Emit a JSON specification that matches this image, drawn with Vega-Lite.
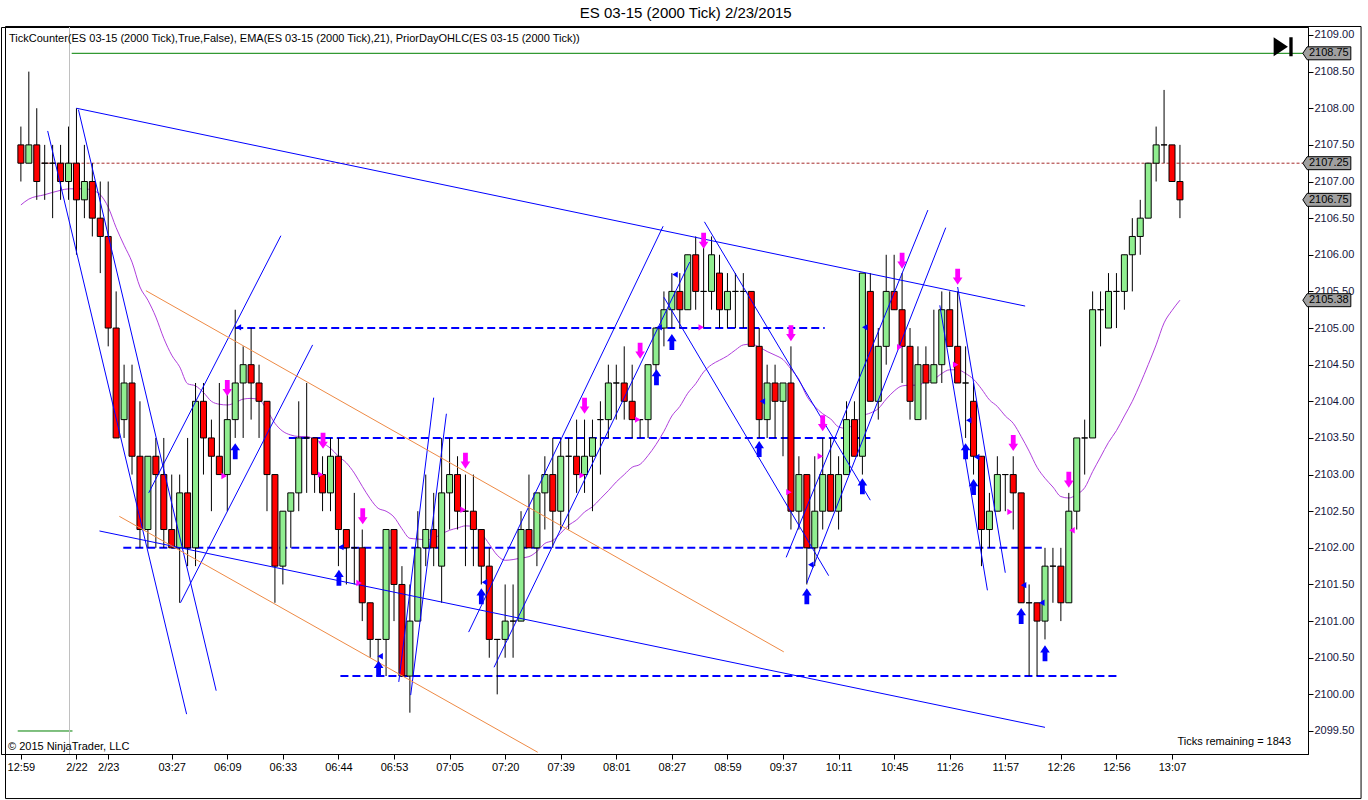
{
  "$schema": "https://vega.github.io/schema/vega-lite/v6.json",
  "autosize": "none",
  "width": 1307,
  "height": 727,
  "padding": {"left": 1, "top": 27, "right": 60, "bottom": 46},
  "background": "white",
  "datasets": {
    "candles": [
      {"i":1,"o":2107.5,"h":2107.75,"l":2107,"c":2107.25},
      {"i":2,"o":2107.25,"h":2108.5,"l":2107.25,"c":2107.5},
      {"i":3,"o":2107.5,"h":2108,"l":2106.75,"c":2107},
      {"i":4,"o":2107.25,"h":2107.5,"l":2106.75,"c":2107.25},
      {"i":5,"o":2107.25,"h":2107.5,"l":2106.5,"c":2107.25},
      {"i":6,"o":2107.25,"h":2107.5,"l":2106.75,"c":2107},
      {"i":7,"o":2107,"h":2107.75,"l":2106.75,"c":2107.25},
      {"i":8,"o":2107.25,"h":2108,"l":2106,"c":2106.75},
      {"i":9,"o":2106.75,"h":2107.5,"l":2106.5,"c":2107},
      {"i":10,"o":2107,"h":2107.25,"l":2106.25,"c":2106.5},
      {"i":11,"o":2106.5,"h":2107,"l":2105.75,"c":2106.25},
      {"i":12,"o":2106.25,"h":2107,"l":2104.75,"c":2105},
      {"i":13,"o":2105,"h":2105.5,"l":2103.5,"c":2103.5},
      {"i":14,"o":2103.75,"h":2104.5,"l":2103.5,"c":2104.25},
      {"i":15,"o":2104.25,"h":2104.5,"l":2103,"c":2103.25},
      {"i":16,"o":2103.25,"h":2104,"l":2102,"c":2102.25},
      {"i":17,"o":2102.25,"h":2103.25,"l":2102,"c":2103.25},
      {"i":18,"o":2103.25,"h":2103.5,"l":2102,"c":2103},
      {"i":19,"o":2103,"h":2103.5,"l":2102,"c":2102.25},
      {"i":20,"o":2102.25,"h":2103,"l":2102,"c":2102},
      {"i":21,"o":2102,"h":2103,"l":2101.25,"c":2102.75},
      {"i":22,"o":2102.75,"h":2103.5,"l":2101.75,"c":2102},
      {"i":23,"o":2102,"h":2104.25,"l":2101.75,"c":2104},
      {"i":24,"o":2104,"h":2104.25,"l":2103,"c":2103.5},
      {"i":25,"o":2103.5,"h":2103.75,"l":2102.5,"c":2103.25},
      {"i":26,"o":2103.25,"h":2104.25,"l":2103,"c":2103},
      {"i":27,"o":2103,"h":2104.25,"l":2102.5,"c":2103.75},
      {"i":28,"o":2103.75,"h":2105.25,"l":2103.5,"c":2104.25},
      {"i":29,"o":2104.25,"h":2104.75,"l":2103.5,"c":2104.5},
      {"i":30,"o":2104.5,"h":2105,"l":2103.75,"c":2104.25},
      {"i":31,"o":2104.25,"h":2104.5,"l":2103.5,"c":2104},
      {"i":32,"o":2104,"h":2104,"l":2102.5,"c":2103},
      {"i":33,"o":2103,"h":2103,"l":2101.25,"c":2101.75},
      {"i":34,"o":2101.75,"h":2102.5,"l":2101.5,"c":2102.5},
      {"i":35,"o":2102.5,"h":2102.75,"l":2102,"c":2102.75},
      {"i":36,"o":2102.75,"h":2104,"l":2102.5,"c":2103.5},
      {"i":37,"o":2103.5,"h":2104.25,"l":2102.75,"c":2103.5},
      {"i":38,"o":2103.5,"h":2103.5,"l":2102.75,"c":2103},
      {"i":39,"o":2103,"h":2103.25,"l":2102.5,"c":2102.75},
      {"i":40,"o":2102.75,"h":2103.5,"l":2102.5,"c":2103.25},
      {"i":41,"o":2103.25,"h":2103.5,"l":2101.75,"c":2102.25},
      {"i":42,"o":2102.25,"h":2102.25,"l":2101.5,"c":2102},
      {"i":43,"o":2102,"h":2102.75,"l":2101.5,"c":2102},
      {"i":44,"o":2102,"h":2102.25,"l":2101,"c":2101.25},
      {"i":45,"o":2101.25,"h":2101.25,"l":2100.5,"c":2100.75},
      {"i":46,"o":2100.75,"h":2100.75,"l":2100.25,"c":2100.75},
      {"i":47,"o":2100.75,"h":2102.25,"l":2100.25,"c":2102.25},
      {"i":48,"o":2102.25,"h":2102.25,"l":2101,"c":2101.5},
      {"i":49,"o":2101.5,"h":2101.75,"l":2100.25,"c":2100.25},
      {"i":50,"o":2100.25,"h":2101.5,"l":2099.75,"c":2101},
      {"i":51,"o":2101,"h":2102.5,"l":2101,"c":2102},
      {"i":52,"o":2102,"h":2103,"l":2101.75,"c":2102.25},
      {"i":53,"o":2102.25,"h":2102.75,"l":2101.75,"c":2102},
      {"i":54,"o":2101.75,"h":2103.5,"l":2101.25,"c":2102.75},
      {"i":55,"o":2102.75,"h":2103.5,"l":2102.25,"c":2103},
      {"i":56,"o":2103,"h":2103.25,"l":2102.25,"c":2102.5},
      {"i":57,"o":2102.5,"h":2103,"l":2101.75,"c":2102.5},
      {"i":58,"o":2102.5,"h":2103,"l":2101.75,"c":2102.25},
      {"i":59,"o":2102.25,"h":2102.25,"l":2101.5,"c":2101.75},
      {"i":60,"o":2101.75,"h":2102,"l":2100.5,"c":2100.75},
      {"i":61,"o":2100.75,"h":2100.75,"l":2100,"c":2100.75},
      {"i":62,"o":2100.75,"h":2101.5,"l":2100.5,"c":2101},
      {"i":63,"o":2101,"h":2101.5,"l":2100.5,"c":2101},
      {"i":64,"o":2101,"h":2102.5,"l":2101,"c":2102.25},
      {"i":65,"o":2102.25,"h":2103,"l":2102,"c":2102},
      {"i":66,"o":2102,"h":2102.75,"l":2101.75,"c":2102.75},
      {"i":67,"o":2102.75,"h":2103.25,"l":2102.25,"c":2103},
      {"i":68,"o":2103,"h":2103.5,"l":2102,"c":2102.5},
      {"i":69,"o":2102.5,"h":2103.5,"l":2102.25,"c":2103.25},
      {"i":70,"o":2103.25,"h":2103.5,"l":2102.25,"c":2103.25},
      {"i":71,"o":2103.25,"h":2103.75,"l":2102.75,"c":2103},
      {"i":72,"o":2103,"h":2103.75,"l":2102.75,"c":2103.25},
      {"i":73,"o":2103.25,"h":2103.75,"l":2102.5,"c":2103.5},
      {"i":74,"o":2103.75,"h":2104,"l":2103,"c":2103.75},
      {"i":75,"o":2103.75,"h":2104.5,"l":2103.5,"c":2104.25},
      {"i":76,"o":2104.25,"h":2104.5,"l":2103.75,"c":2104.25},
      {"i":77,"o":2104.25,"h":2104.75,"l":2103.75,"c":2104},
      {"i":78,"o":2104,"h":2104.5,"l":2103.5,"c":2103.75},
      {"i":79,"o":2103.75,"h":2103.75,"l":2103.5,"c":2103.75},
      {"i":80,"o":2103.75,"h":2104.5,"l":2103.5,"c":2104.5},
      {"i":81,"o":2104.5,"h":2105,"l":2104.25,"c":2105},
      {"i":82,"o":2105,"h":2105.5,"l":2104.75,"c":2105.25},
      {"i":83,"o":2105.25,"h":2105.75,"l":2105,"c":2105.5},
      {"i":84,"o":2105.5,"h":2105.75,"l":2105,"c":2105.25},
      {"i":85,"o":2105.25,"h":2106,"l":2105.25,"c":2106},
      {"i":86,"o":2106,"h":2106.25,"l":2105.25,"c":2105.5},
      {"i":87,"o":2105.5,"h":2106.25,"l":2105,"c":2105.5},
      {"i":88,"o":2105.5,"h":2106.25,"l":2105.25,"c":2106},
      {"i":89,"o":2105.75,"h":2106,"l":2105,"c":2105.25},
      {"i":90,"o":2105.25,"h":2105.75,"l":2105,"c":2105.5},
      {"i":91,"o":2105.5,"h":2105.75,"l":2105,"c":2105.5},
      {"i":92,"o":2105.5,"h":2105.75,"l":2105,"c":2105.5},
      {"i":93,"o":2105.5,"h":2105.5,"l":2104.75,"c":2104.75},
      {"i":94,"o":2104.75,"h":2105,"l":2103.5,"c":2103.75},
      {"i":95,"o":2103.75,"h":2104.5,"l":2103.5,"c":2104.25},
      {"i":96,"o":2104.25,"h":2104.5,"l":2103.5,"c":2104},
      {"i":97,"o":2104,"h":2104.25,"l":2103.25,"c":2104.25},
      {"i":98,"o":2104.25,"h":2104.75,"l":2102.25,"c":2102.5},
      {"i":99,"o":2102.5,"h":2103.25,"l":2102.25,"c":2103},
      {"i":100,"o":2103,"h":2103,"l":2101.5,"c":2102},
      {"i":101,"o":2102,"h":2103.25,"l":2101.75,"c":2102.5},
      {"i":102,"o":2102.5,"h":2103.5,"l":2102.25,"c":2103},
      {"i":103,"o":2103,"h":2103.5,"l":2102.5,"c":2102.5},
      {"i":104,"o":2102.5,"h":2103.25,"l":2102.25,"c":2103},
      {"i":105,"o":2103,"h":2104,"l":2103,"c":2103.75},
      {"i":106,"o":2103.75,"h":2104,"l":2103.25,"c":2103.25},
      {"i":107,"o":2103.25,"h":2105.75,"l":2103,"c":2105.75},
      {"i":108,"o":2105.5,"h":2105.75,"l":2104,"c":2104},
      {"i":109,"o":2104,"h":2105,"l":2103.75,"c":2104.75},
      {"i":110,"o":2104.75,"h":2106,"l":2104.5,"c":2105.5},
      {"i":111,"o":2105.5,"h":2106,"l":2105.25,"c":2105.25},
      {"i":112,"o":2105.25,"h":2105.75,"l":2104.25,"c":2104.75},
      {"i":113,"o":2104.75,"h":2105,"l":2103.75,"c":2104},
      {"i":114,"o":2103.75,"h":2104.75,"l":2103.75,"c":2104.5},
      {"i":115,"o":2104.5,"h":2104.75,"l":2103.75,"c":2104.25},
      {"i":116,"o":2104.25,"h":2105.25,"l":2104.25,"c":2104.5},
      {"i":117,"o":2104.5,"h":2105.5,"l":2104.25,"c":2105.25},
      {"i":118,"o":2105.25,"h":2105.5,"l":2104.75,"c":2104.75},
      {"i":119,"o":2104.75,"h":2105.5,"l":2104.25,"c":2104.25},
      {"i":120,"o":2104.25,"h":2104.75,"l":2103.5,"c":2104.25},
      {"i":121,"o":2104,"h":2104.25,"l":2103,"c":2103.25},
      {"i":122,"o":2103.25,"h":2103.25,"l":2101.75,"c":2102.25},
      {"i":123,"o":2102.25,"h":2102.75,"l":2102,"c":2102.5},
      {"i":124,"o":2102.5,"h":2103.25,"l":2102.5,"c":2103},
      {"i":125,"o":2103,"h":2103,"l":2102.5,"c":2103},
      {"i":126,"o":2103,"h":2103.25,"l":2102.25,"c":2102.75},
      {"i":127,"o":2102.75,"h":2102.75,"l":2101.25,"c":2101.25},
      {"i":128,"o":2101.25,"h":2101.5,"l":2100.25,"c":2101.25},
      {"i":129,"o":2101.25,"h":2101.25,"l":2100.25,"c":2101},
      {"i":130,"o":2101,"h":2102,"l":2100.75,"c":2101.75},
      {"i":131,"o":2101.75,"h":2102,"l":2101.25,"c":2101.75},
      {"i":132,"o":2101.75,"h":2102,"l":2101,"c":2101.25},
      {"i":133,"o":2101.25,"h":2102.75,"l":2101.25,"c":2102.5},
      {"i":134,"o":2102.5,"h":2103.5,"l":2102.25,"c":2103.5},
      {"i":135,"o":2103.5,"h":2103.75,"l":2103,"c":2103.5},
      {"i":136,"o":2103.5,"h":2105.5,"l":2103.5,"c":2105.25},
      {"i":137,"o":2105.25,"h":2105.5,"l":2104.75,"c":2105.25},
      {"i":138,"o":2105,"h":2105.75,"l":2105,"c":2105.5},
      {"i":139,"o":2105.5,"h":2105.75,"l":2105,"c":2105.5},
      {"i":140,"o":2105.5,"h":2106,"l":2105.25,"c":2106},
      {"i":141,"o":2106,"h":2106.5,"l":2105.5,"c":2106.25},
      {"i":142,"o":2106.25,"h":2106.75,"l":2106,"c":2106.5},
      {"i":143,"o":2106.5,"h":2107.25,"l":2106.5,"c":2107.25},
      {"i":144,"o":2107.25,"h":2107.75,"l":2107,"c":2107.5},
      {"i":145,"o":2107.5,"h":2108.25,"l":2107.25,"c":2107.5},
      {"i":146,"o":2107.5,"h":2107.5,"l":2107,"c":2107},
      {"i":147,"o":2107,"h":2107.5,"l":2106.5,"c":2106.75}
    ],
    "ema": [
      {"i":1,"v":2106.68},{"i":2,"v":2106.76},{"i":4,"v":2106.82},{"i":6,"v":2106.88},{"i":7,"v":2106.9},
      {"i":9,"v":2106.9},{"i":10,"v":2106.88},{"i":11,"v":2106.82},{"i":12,"v":2106.65},{"i":13,"v":2106.37},
      {"i":14,"v":2106.13},{"i":15,"v":2105.9},{"i":16,"v":2105.56},{"i":17,"v":2105.38},{"i":18,"v":2105.15},
      {"i":19,"v":2104.86},{"i":20,"v":2104.63},{"i":21,"v":2104.47},{"i":22,"v":2104.24},{"i":23,"v":2104.21},
      {"i":24,"v":2104.12},{"i":25,"v":2104.0},{"i":26,"v":2103.96},{"i":27,"v":2103.95},{"i":28,"v":2103.98},
      {"i":29,"v":2104.03},{"i":30,"v":2104.04},{"i":31,"v":2104.02},{"i":32,"v":2103.88},{"i":33,"v":2103.7},
      {"i":34,"v":2103.59},{"i":35,"v":2103.54},{"i":36,"v":2103.52},{"i":37,"v":2103.52},{"i":38,"v":2103.48},
      {"i":39,"v":2103.43},{"i":40,"v":2103.36},{"i":41,"v":2103.25},{"i":42,"v":2103.16},{"i":43,"v":2103.02},
      {"i":44,"v":2102.84},{"i":45,"v":2102.67},{"i":46,"v":2102.54},{"i":47,"v":2102.5},{"i":48,"v":2102.42},
      {"i":49,"v":2102.26},{"i":50,"v":2102.13},{"i":51,"v":2102.12},{"i":52,"v":2102.11},{"i":53,"v":2102.13},
      {"i":54,"v":2102.19},{"i":55,"v":2102.24},{"i":56,"v":2102.27},{"i":57,"v":2102.3},{"i":58,"v":2102.29},
      {"i":59,"v":2102.2},{"i":60,"v":2102.05},{"i":61,"v":2101.9},{"i":62,"v":2101.83},{"i":63,"v":2101.84},
      {"i":64,"v":2101.86},{"i":65,"v":2101.88},{"i":66,"v":2101.95},{"i":67,"v":2102.06},{"i":68,"v":2102.1},
      {"i":69,"v":2102.2},{"i":70,"v":2102.31},{"i":71,"v":2102.38},{"i":72,"v":2102.49},{"i":73,"v":2102.56},
      {"i":74,"v":2102.67},{"i":75,"v":2102.78},{"i":76,"v":2102.9},{"i":77,"v":2103.0},{"i":78,"v":2103.1},
      {"i":79,"v":2103.14},{"i":80,"v":2103.26},{"i":81,"v":2103.41},{"i":82,"v":2103.59},{"i":83,"v":2103.8},
      {"i":84,"v":2103.93},{"i":85,"v":2104.11},{"i":86,"v":2104.24},{"i":87,"v":2104.4},{"i":88,"v":2104.5},
      {"i":89,"v":2104.56},{"i":90,"v":2104.62},{"i":91,"v":2104.7},{"i":92,"v":2104.77},{"i":93,"v":2104.78},
      {"i":94,"v":2104.74},{"i":95,"v":2104.68},{"i":96,"v":2104.63},{"i":97,"v":2104.57},{"i":98,"v":2104.44},
      {"i":99,"v":2104.3},{"i":100,"v":2104.07},{"i":101,"v":2103.93},{"i":102,"v":2103.83},{"i":103,"v":2103.76},
      {"i":104,"v":2103.65},{"i":105,"v":2103.63},{"i":106,"v":2103.7},{"i":107,"v":2103.8},{"i":108,"v":2103.84},
      {"i":109,"v":2103.9},{"i":110,"v":2104.03},{"i":111,"v":2104.14},{"i":112,"v":2104.21},{"i":113,"v":2104.22},
      {"i":114,"v":2104.22},{"i":115,"v":2104.27},{"i":116,"v":2104.3},{"i":117,"v":2104.38},{"i":118,"v":2104.43},
      {"i":119,"v":2104.43},{"i":120,"v":2104.38},{"i":121,"v":2104.3},{"i":122,"v":2104.17},{"i":123,"v":2104.02},
      {"i":124,"v":2103.93},{"i":125,"v":2103.8},{"i":126,"v":2103.7},{"i":127,"v":2103.52},{"i":128,"v":2103.32},
      {"i":129,"v":2103.1},{"i":130,"v":2102.95},{"i":131,"v":2102.83},{"i":132,"v":2102.7},{"i":133,"v":2102.68},
      {"i":134,"v":2102.73},{"i":135,"v":2102.82},{"i":136,"v":2103.04},{"i":137,"v":2103.24},{"i":138,"v":2103.44},
      {"i":139,"v":2103.6},{"i":140,"v":2103.8},{"i":141,"v":2104.0},{"i":142,"v":2104.24},{"i":143,"v":2104.5},
      {"i":144,"v":2104.77},{"i":145,"v":2105.07},{"i":146,"v":2105.24},{"i":147,"v":2105.38}
    ],
    "trend": [
      {"i1":8,"p1":2108.0,"i2":127.5,"p2":2105.3},
      {"i1":4.375,"p1":2107.69,"i2":21.875,"p2":2099.73},
      {"i1":8.25,"p1":2107.98,"i2":25.6,"p2":2100.05},
      {"i1":17.1,"p1":2102.75,"i2":33.75,"p2":2106.26},
      {"i1":21.1,"p1":2101.25,"i2":37.75,"p2":2104.77},
      {"i1":10.9,"p1":2102.23,"i2":130,"p2":2099.55},
      {"i1":48.6,"p1":2100.17,"i2":53,"p2":2104.05},
      {"i1":50.1,"p1":2099.99,"i2":54.6,"p2":2103.83},
      {"i1":57.4,"p1":2100.85,"i2":81.9,"p2":2106.39},
      {"i1":60.6,"p1":2100.37,"i2":85.25,"p2":2105.9},
      {"i1":87.1,"p1":2106.45,"i2":108,"p2":2102.65},
      {"i1":82,"p1":2105.42,"i2":102.75,"p2":2101.62},
      {"i1":97.4,"p1":2101.87,"i2":115.25,"p2":2106.61},
      {"i1":100,"p1":2101.52,"i2":117.5,"p2":2106.37},
      {"i1":116.75,"p1":2105.31,"i2":122.75,"p2":2101.42},
      {"i1":119,"p1":2105.56,"i2":125,"p2":2101.66}
    ],
    "orange": [
      {"i1":16.75,"p1":2105.51,"i2":97.1,"p2":2100.58},
      {"i1":13.4,"p1":2102.43,"i2":66.1,"p2":2099.21}
    ],
    "levels": [
      {"i1":28,"i2":102.25,"p":2105.0},
      {"i1":34.75,"i2":108,"p":2103.5},
      {"i1":13.9,"i2":129.6,"p":2102.0},
      {"i1":41.25,"i2":139.4,"p":2100.25}
    ],
    "up": [
      {"i":28,"p":2103.32},{"i":41.06,"p":2101.59},{"i":46.06,"p":2100.35},{"i":59,"p":2101.34},
      {"i":81.06,"p":2104.33},{"i":83,"p":2104.81},{"i":94,"p":2103.35},{"i":100,"p":2101.34},
      {"i":107,"p":2102.84},{"i":120,"p":2103.32},{"i":121,"p":2102.83},{"i":127,"p":2101.07},{"i":130,"p":2100.56}
    ],
    "down": [
      {"i":27,"p":2104.18},{"i":39.06,"p":2103.46},{"i":44.06,"p":2102.43},{"i":57,"p":2103.19},
      {"i":72,"p":2103.94},{"i":79,"p":2104.69},{"i":87,"p":2106.19},{"i":98,"p":2104.93},
      {"i":102,"p":2103.7},{"i":112,"p":2105.92},{"i":119,"p":2105.7},{"i":126,"p":2103.43},{"i":133,"p":2102.93}
    ],
    "tleft": [
      {"i":28.4,"p":2105.01},{"i":41.3,"p":2102.01},{"i":46.25,"p":2100.52},{"i":59.4,"p":2101.53},
      {"i":81.4,"p":2105.01},{"i":83.4,"p":2105.73},{"i":94.4,"p":2104.0},{"i":100.5,"p":2101.77},
      {"i":107.3,"p":2105.01},{"i":120.4,"p":2103.74},{"i":121.4,"p":2103.24},{"i":127.3,"p":2101.49},
      {"i":129.6,"p":2101.25}
    ],
    "tright": [
      {"i":26.6,"p":2102.98},{"i":38.75,"p":2103.0},{"i":43.6,"p":2101.52},{"i":56.7,"p":2102.52},
      {"i":71.7,"p":2102.99},{"i":78.7,"p":2103.75},{"i":86.7,"p":2105.01},{"i":97.75,"p":2102.76},
      {"i":101.7,"p":2103.25},{"i":111.7,"p":2104.74},{"i":118.75,"p":2104.5},{"i":125.6,"p":2102.49}
    ],
    "tleftm": [{"i":133.4,"p":2102.24}],
    "boxes": [
      {"i":165.5,"p":2108.75,"t":"2108.75"},
      {"i":165.5,"p":2107.25,"t":"2107.25"},
      {"i":165.5,"p":2106.75,"t":"2106.75"},
      {"i":165.5,"p":2105.38,"t":"2105.38"}
    ]
  },
  "layer": [
    {
      "data": {"values": [{"i1":7.4,"i2":162.5,"p":2108.75},{"i1":0.6,"i2":7.5,"p":2099.5}]},
      "mark": {"type": "rule", "color": "#008000", "strokeWidth": 1},
      "encoding": {
        "x": {"field": "i1", "type": "quantitative", "scale": {"domain": [-0.875, 162.5], "nice": false, "zero": false},
          "axis": {"orient": "bottom", "title": null, "grid": false, "tickCount": 40,
            "values": [1,8,12,20,27,34,41,48,55,62,69,76,83,90,97,104,111,118,125,132,139,146],
            "labelExpr": "['12:59','2/22','2/23','03:27','06:09','06:33','06:44','06:53','07:05','07:20','07:39','08:01','08:27','08:59','09:37','10:11','10:45','11:26','11:57','12:26','12:56','13:07'][indexof([1,8,12,20,27,34,41,48,55,62,69,76,83,90,97,104,111,118,125,132,139,146], datum.value)]",
            "tickSize": 5, "tickColor": "black", "domainColor": "black",
            "labelFont": "Liberation Sans", "labelFontSize": 11, "labelColor": "black",
            "labelPadding": 2, "labelOverlap": false, "labelFlush": false}},
        "x2": {"field": "i2"},
        "y": {"field": "p", "type": "quantitative", "scale": {"domain": [2099.186, 2109.109], "nice": false, "zero": false},
          "axis": {"orient": "right", "title": null, "grid": false, "tickCount": 40, "zindex": 0,
            "values": [2099.5,2100,2100.5,2101,2101.5,2102,2102.5,2103,2103.5,2104,2104.5,2105,2105.5,2106,2106.5,2107,2107.5,2108,2108.5,2109],
            "format": ".2f", "tickSize": 5, "tickColor": "black", "domainColor": "black",
            "labelFont": "Liberation Sans", "labelFontSize": 11, "labelColor": "#14143c",
            "labelPadding": 1, "labelOverlap": false, "labelFlush": false}}
      }
    },
    {
      "data": {"values": [{"i1":-0.9375,"i2":169.8125,"p1":2109.116,"p2":2098.578}]},
      "mark": {"type": "rect", "fill": null, "fillOpacity": 0, "stroke": "black", "strokeWidth": 1, "clip": false},
      "encoding": {
        "x": {"field": "i1", "type": "quantitative", "scale": {"domain": [-0.875, 162.5], "nice": false, "zero": false}},
        "x2": {"field": "i2"},
        "y": {"field": "p1", "type": "quantitative", "scale": {"domain": [2099.186, 2109.109], "nice": false, "zero": false}},
        "y2": {"field": "p2"}
      }
    },
    {
      "data": {"values": [{"i1":3.6,"i2":162.5,"p":2107.25}]},
      "mark": {"type": "rule", "color": "#a52a2a", "strokeWidth": 1, "strokeDash": [3, 2]},
      "encoding": {
        "x": {"field": "i1", "type": "quantitative", "scale": {"domain": [-0.875, 162.5], "nice": false, "zero": false}},
        "x2": {"field": "i2"},
        "y": {"field": "p", "type": "quantitative", "scale": {"domain": [2099.186, 2109.109], "nice": false, "zero": false}}
      }
    },
    {
      "data": {"values": [{"i":7.125}]},
      "mark": {"type": "rule", "color": "#c0c0c0", "strokeWidth": 1},
      "encoding": {
        "x": {"field": "i", "type": "quantitative", "scale": {"domain": [-0.875, 162.5], "nice": false, "zero": false}}
      }
    },
    {
      "data": {"name": "levels"},
      "mark": {"type": "rule", "color": "#0000ff", "strokeWidth": 2, "strokeDash": [8, 4]},
      "encoding": {
        "x": {"field": "i1", "type": "quantitative", "scale": {"domain": [-0.875, 162.5], "nice": false, "zero": false}},
        "x2": {"field": "i2"},
        "y": {"field": "p", "type": "quantitative", "scale": {"domain": [2099.186, 2109.109], "nice": false, "zero": false}}
      }
    },
    {
      "data": {"name": "ema"},
      "mark": {"type": "line", "color": "#b040dc", "strokeWidth": 1, "interpolate": "monotone"},
      "encoding": {
        "x": {"field": "i", "type": "quantitative", "scale": {"domain": [-0.875, 162.5], "nice": false, "zero": false}},
        "y": {"field": "v", "type": "quantitative", "scale": {"domain": [2099.186, 2109.109], "nice": false, "zero": false}}
      }
    },
    {
      "data": {"name": "candles"},
      "mark": {"type": "rule", "color": "black", "strokeWidth": 1},
      "encoding": {
        "x": {"field": "i", "type": "quantitative", "scale": {"domain": [-0.875, 162.5], "nice": false, "zero": false}},
        "y": {"field": "l", "type": "quantitative", "scale": {"domain": [2099.186, 2109.109], "nice": false, "zero": false}},
        "y2": {"field": "h"}
      }
    },
    {
      "data": {"name": "candles"},
      "mark": {"type": "bar", "size": 6, "stroke": "black", "strokeWidth": 1},
      "encoding": {
        "x": {"field": "i", "type": "quantitative", "scale": {"domain": [-0.875, 162.5], "nice": false, "zero": false}},
        "y": {"field": "o", "type": "quantitative", "scale": {"domain": [2099.186, 2109.109], "nice": false, "zero": false}},
        "y2": {"field": "c"},
        "fill": {"condition": {"test": "datum.c > datum.o", "value": "#90ee90"}, "value": "#ff0000"}
      }
    },
    {
      "data": {"name": "trend"},
      "mark": {"type": "rule", "color": "#0000ff", "strokeWidth": 1},
      "encoding": {
        "x": {"field": "i1", "type": "quantitative", "scale": {"domain": [-0.875, 162.5], "nice": false, "zero": false}},
        "x2": {"field": "i2"},
        "y": {"field": "p1", "type": "quantitative", "scale": {"domain": [2099.186, 2109.109], "nice": false, "zero": false}},
        "y2": {"field": "p2"}
      }
    },
    {
      "data": {"name": "orange"},
      "mark": {"type": "rule", "color": "#ee8a45", "strokeWidth": 1},
      "encoding": {
        "x": {"field": "i1", "type": "quantitative", "scale": {"domain": [-0.875, 162.5], "nice": false, "zero": false}},
        "x2": {"field": "i2"},
        "y": {"field": "p1", "type": "quantitative", "scale": {"domain": [2099.186, 2109.109], "nice": false, "zero": false}},
        "y2": {"field": "p2"}
      }
    },
    {
      "data": {"name": "up"},
      "mark": {"type": "point", "filled": true, "opacity": 1, "color": "#0000ff", "size": 256,
        "shape": "M-0.3,1L0.3,1L0.3,-0.1L0.6,-0.1L0,-1L-0.6,-0.1L-0.3,-0.1Z"},
      "encoding": {
        "x": {"field": "i", "type": "quantitative", "scale": {"domain": [-0.875, 162.5], "nice": false, "zero": false}},
        "y": {"field": "p", "type": "quantitative", "scale": {"domain": [2099.186, 2109.109], "nice": false, "zero": false}}
      }
    },
    {
      "data": {"name": "down"},
      "mark": {"type": "point", "filled": true, "opacity": 1, "color": "#ff00ff", "size": 256,
        "shape": "M-0.3,-1L0.3,-1L0.3,0.1L0.6,0.1L0,1L-0.6,0.1L-0.3,0.1Z"},
      "encoding": {
        "x": {"field": "i", "type": "quantitative", "scale": {"domain": [-0.875, 162.5], "nice": false, "zero": false}},
        "y": {"field": "p", "type": "quantitative", "scale": {"domain": [2099.186, 2109.109], "nice": false, "zero": false}}
      }
    },
    {
      "data": {"name": "tleft"},
      "mark": {"type": "point", "filled": true, "opacity": 1, "color": "#0000ff", "size": 40, "shape": "triangle-left"},
      "encoding": {
        "x": {"field": "i", "type": "quantitative", "scale": {"domain": [-0.875, 162.5], "nice": false, "zero": false}},
        "y": {"field": "p", "type": "quantitative", "scale": {"domain": [2099.186, 2109.109], "nice": false, "zero": false}}
      }
    },
    {
      "data": {"name": "tright"},
      "mark": {"type": "point", "filled": true, "opacity": 1, "color": "#ff00ff", "size": 40, "shape": "triangle-right"},
      "encoding": {
        "x": {"field": "i", "type": "quantitative", "scale": {"domain": [-0.875, 162.5], "nice": false, "zero": false}},
        "y": {"field": "p", "type": "quantitative", "scale": {"domain": [2099.186, 2109.109], "nice": false, "zero": false}}
      }
    },
    {
      "data": {"name": "tleftm"},
      "mark": {"type": "point", "filled": true, "opacity": 1, "color": "#ff00ff", "size": 40, "shape": "triangle-left"},
      "encoding": {
        "x": {"field": "i", "type": "quantitative", "scale": {"domain": [-0.875, 162.5], "nice": false, "zero": false}},
        "y": {"field": "p", "type": "quantitative", "scale": {"domain": [2099.186, 2109.109], "nice": false, "zero": false}}
      }
    },
    {
      "data": {"name": "boxes"},
      "mark": {"type": "point", "filled": true, "opacity": 1, "fill": "#a0a0a0", "stroke": "black", "strokeWidth": 1,
        "size": 2304, "clip": false, "shape": "M-1,0L-0.82,-0.27L1,-0.27L1,0.27L-0.82,0.27Z"},
      "encoding": {
        "x": {"field": "i", "type": "quantitative", "scale": {"domain": [-0.875, 162.5], "nice": false, "zero": false}},
        "y": {"field": "p", "type": "quantitative", "scale": {"domain": [2099.186, 2109.109], "nice": false, "zero": false}}
      }
    },
    {
      "data": {"name": "boxes"},
      "mark": {"type": "text", "font": "Liberation Sans", "fontSize": 11, "color": "black", "align": "center", "baseline": "middle", "dx": 2, "clip": false},
      "encoding": {
        "x": {"field": "i", "type": "quantitative", "scale": {"domain": [-0.875, 162.5], "nice": false, "zero": false}},
        "y": {"field": "p", "type": "quantitative", "scale": {"domain": [2099.186, 2109.109], "nice": false, "zero": false}},
        "text": {"field": "t"}
      }
    },
    {
      "data": {"values": [{"i":160,"p":2108.84}]},
      "mark": {"type": "point", "filled": true, "opacity": 1, "color": "black", "size": 361,
        "shape": "M-1,-1L0.5,0L-1,1Z M0.65,-1L1,-1L1,1L0.65,1Z"},
      "encoding": {
        "x": {"field": "i", "type": "quantitative", "scale": {"domain": [-0.875, 162.5], "nice": false, "zero": false}},
        "y": {"field": "p", "type": "quantitative", "scale": {"domain": [2099.186, 2109.109], "nice": false, "zero": false}}
      }
    },
    {
      "data": {"values": [
        {"i":-0.5,"p":2108.945,"t":"TickCounter(ES 03-15 (2000 Tick),True,False), EMA(ES 03-15 (2000 Tick),21), PriorDayOHLC(ES 03-15 (2000 Tick))"},
        {"i":-0.625,"p":2099.28,"t":"© 2015 NinjaTrader, LLC"}
      ]},
      "mark": {"type": "text", "font": "Liberation Sans", "fontSize": 11, "color": "black", "align": "left", "baseline": "middle"},
      "encoding": {
        "x": {"field": "i", "type": "quantitative", "scale": {"domain": [-0.875, 162.5], "nice": false, "zero": false}},
        "y": {"field": "p", "type": "quantitative", "scale": {"domain": [2099.186, 2109.109], "nice": false, "zero": false}},
        "text": {"field": "t"}
      }
    },
    {
      "data": {"values": [{"i":161,"p":2099.35,"t":"Ticks remaining = 1843"}]},
      "mark": {"type": "text", "font": "Liberation Sans", "fontSize": 11, "color": "black", "align": "right", "baseline": "middle"},
      "encoding": {
        "x": {"field": "i", "type": "quantitative", "scale": {"domain": [-0.875, 162.5], "nice": false, "zero": false}},
        "y": {"field": "p", "type": "quantitative", "scale": {"domain": [2099.186, 2109.109], "nice": false, "zero": false}},
        "text": {"field": "t"}
      }
    },
    {
      "data": {"values": [{"i":84.75,"p":2109.3,"t":"ES 03-15 (2000 Tick)  2/23/2015"}]},
      "mark": {"type": "text", "font": "Liberation Sans", "fontSize": 15, "color": "black", "align": "center", "baseline": "middle", "clip": false},
      "encoding": {
        "x": {"field": "i", "type": "quantitative", "scale": {"domain": [-0.875, 162.5], "nice": false, "zero": false}},
        "y": {"field": "p", "type": "quantitative", "scale": {"domain": [2099.186, 2109.109], "nice": false, "zero": false}},
        "text": {"field": "t"}
      }
    }
  ],
  "config": {
    "view": {"stroke": "black", "strokeWidth": 1},
    "axis": {"domainWidth": 1, "tickWidth": 1}
  }
}
